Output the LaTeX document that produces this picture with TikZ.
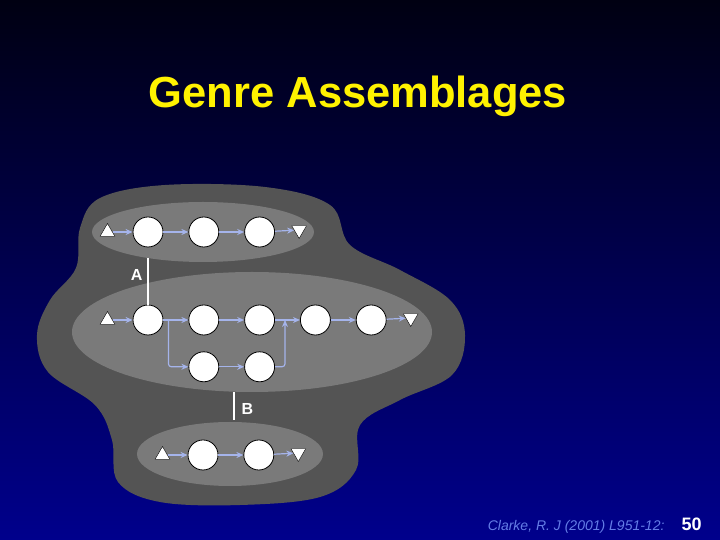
\documentclass[tikz,border=0pt]{standalone}
\usepackage{fontspec}
\setmainfont{Liberation Sans}
\usetikzlibrary{positioning,shapes.geometric,calc,arrows.meta}
\definecolor{topblue}{RGB}{0,0,18}
\definecolor{botblue}{RGB}{0,0,140}
\definecolor{blobgray}{RGB}{84,84,84}
\definecolor{lensgray}{RGB}{122,122,122}
\definecolor{flowblue}{RGB}{165,180,235}
\definecolor{citeblue}{RGB}{100,125,230}
\tikzset{
  state/.style={circle,draw=black,fill=white,minimum size=30pt,inner sep=0pt,thick},
  enter/.style={regular polygon,regular polygon sides=3,draw=black,fill=white,minimum size=17pt,inner sep=0pt},
  leave/.style={enter,shape border rotate=180},
  flow/.style={draw=flowblue,line width=1.2pt,-{Stealth[length=7pt,width=6pt]}},
  link/.style={draw=white,line width=2.5pt},
  tag/.style={text=white,font=\bfseries\fontsize{16}{16}\selectfont}
}

\begin{document}
\begin{tikzpicture}[x=1pt,y=1pt,node distance=25pt]
        \shade[top color=topblue,bottom color=botblue] (0,0) rectangle (720,540);
        \useasboundingbox (0,0) rectangle (720,540);

        \node[text=yellow,font=\bfseries\fontsize{43.5}{44}\selectfont] (title) at (358,444) {Genre Assemblages};

        % outer assemblage
        \fill[blobgray] plot[smooth cycle,tension=.6] coordinates{
            (80,312) (100,342) (165,355) (265,353) (330,335) (350,295) (400,270)
            (450,240) (465,205) (452,165) (400,140) (360,115) (356,70) (320,43)
            (240,35) (160,38) (118,58) (112,100) (95,135) (48,168) (37,205)
            (50,240) (76,272)};
        \fill[lensgray] (203,308) ellipse[x radius=111,y radius=30];
        \fill[lensgray] (252,208) ellipse[x radius=180,y radius=60];
        \fill[lensgray] (230,86) ellipse[x radius=93,y radius=32];

        % top genre
        \node[state] (t1) at (148,308) {};
        \node[state,right=of t1] (t2) {};
        \node[state,right=of t2] (t3) {};
        \node[enter,left=20pt of t1] (ts) {};
        \node[leave,right=19pt of t3,yshift=2pt] (te) {};
        \draw[flow] (ts) -- (t1);
        \draw[flow] (t1) -- (t2);
        \draw[flow] (t2) -- (t3);
        \draw[flow] (t3) -- (te);

        % middle genre
        \node[state] (m1) at (148,220) {};
        \node[state,right=of m1] (m2) {};
        \node[state,right=of m2] (m3) {};
        \node[state,right=of m3] (m4) {};
        \node[state,right=of m4] (m5) {};
        \node[state,below=16pt of m2] (l1) {};
        \node[state,right=of l1] (l2) {};
        \node[enter,left=20pt of m1] (ms) {};
        \node[leave,right=19pt of m5,yshift=2pt] (me) {};
        \coordinate (split) at ([xshift=5pt]m1.east);
        \coordinate (join) at ($(m3.east)!.4!(m4.west)$);
        \draw[flow] (ms) -- (m1);
        \draw[flow] (m1) -- (m2);
        \draw[flow] (m2) -- (m3);
        \draw[flow] (m3) -- (m4);
        \draw[flow] (m4) -- (m5);
        \draw[flow] (m5) -- (me);
        \draw[flow,rounded corners=3pt] (split) |- (l1);
        \draw[flow] (l1) -- (l2);
        \draw[flow,rounded corners=3pt] (l2) -| (join);

        % bottom genre
        \node[state] (b1) at (203,85) {};
        \node[state,right=of b1] (b2) {};
        \node[enter,left=20pt of b1] (bs) {};
        \node[leave,right=19pt of b2,yshift=2pt] (be) {};
        \draw[flow] (bs) -- (b1);
        \draw[flow] (b1) -- (b2);
        \draw[flow] (b2) -- (be);

        % relations between genres
        \coordinate (aend) at (148,282);
        \draw[link] (aend) -- (m1.north);
        \node[tag,left=2pt of aend,yshift=-17pt] (A) {A};
        \coordinate (btop) at (234,148);
        \coordinate (bend) at (234,120);
        \draw[link] (btop) -- (bend);
        \node[tag,right=4pt of btop,yshift=-17pt] (B) {B};

        % footer
        \node[anchor=base east,text=citeblue,font=\itshape\fontsize{14}{14}\selectfont] (cite) at (668,9) {Clarke, R. J (2001) L951-12:};
        \node[anchor=base west,text=white,font=\bfseries\fontsize{18}{18}\selectfont] (page) at (678,9) {50};
\end{tikzpicture}
\end{document}
